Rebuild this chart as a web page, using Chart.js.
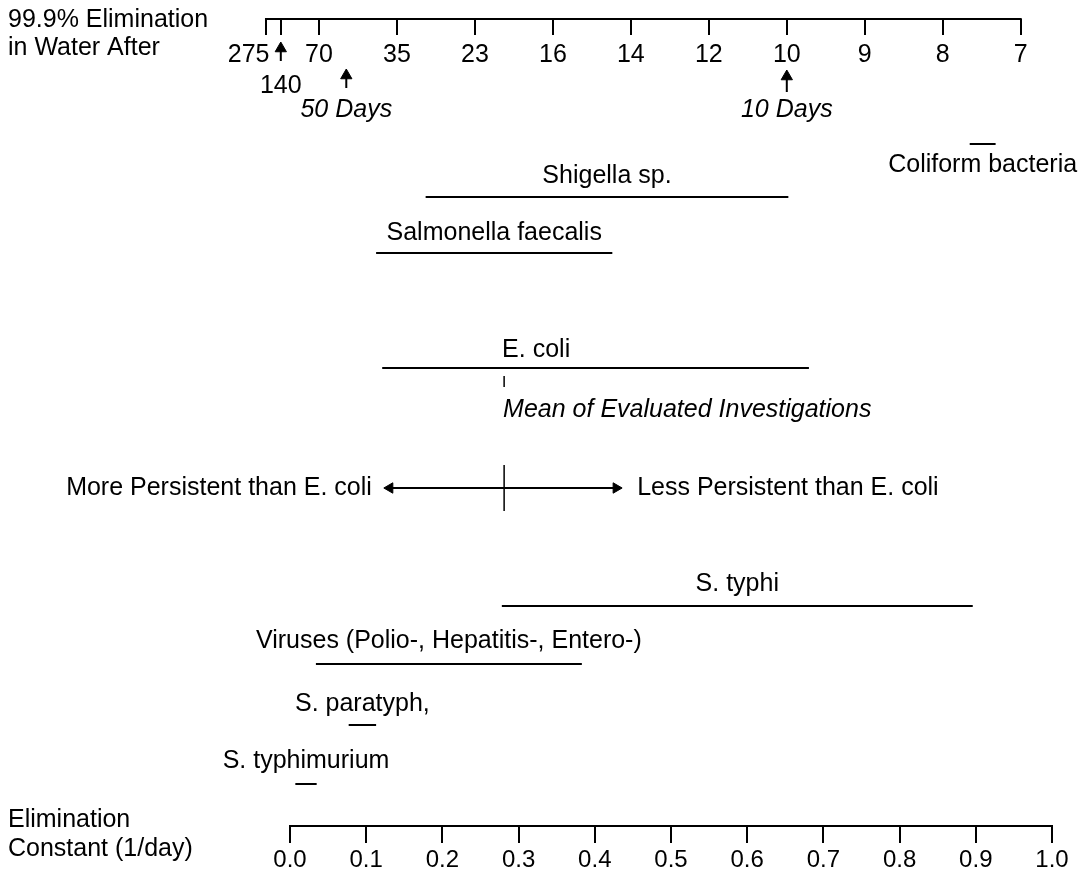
<!DOCTYPE html>
<html>
<head>
<meta charset="utf-8">
<script src="https://cdn.jsdelivr.net/npm/chart.js@4.4.1/dist/chart.umd.min.js"></script>
<style>
  body { margin: 0; background: #fff; }
</style>
</head>
<body>
<canvas id="elimChart" width="1083" height="873"></canvas>
<script>
// species and elimination constant ranges (1/day)
const species = ['Coliform bacteria', 'Shigella sp.', 'Salmonella faecalis', 'E. coli',
    'S. typhi', 'Viruses (Polio-, Hepatitis-, Entero-)', 'S. paratyph,', 'S. typhimurium'];
const kLow  = [0.892, 0.178, 0.113, 0.121, 0.278, 0.034, 0.077, 0.007];
const kHigh = [0.926, 0.654, 0.423, 0.681, 0.896, 0.383, 0.113, 0.035];
const ecoliMean = 0.281;
const persistRange = [0.131, 0.428];

// tick labels
const kTicks = [0, 0.1, 0.2, 0.3, 0.4, 0.5, 0.6, 0.7, 0.8, 0.9, 1.0];
const dayLabels = ['275', '140', '70', '35', '23', '16', '14', '12', '10', '9', '8', '7'];
const daySlots  = [0.32, 0.51, 1, 2, 3, 4, 5, 6, 7, 8, 9, 10];
const markerLabels = ['', '50 Days', '10 Days'];
const markerSlots  = [0.51, 1.35, 7];

// layout (vertical positions in canvas units, fonts)
const W = 1083, H = 873;
const AXIS_Y = { top: 19, bottom: 826 };
const rowY    = [144, 197, 253, 368, 606, 664, 725, 784];
const labelDy = [21, -21, -20, -18, -22, -23, -21, -23];
const markerArrow = [{ tip: 42, foot: 61 }, { tip: 69, foot: 88 }, { tip: 70, foot: 92 }];
const HEAD = 6.5;
const FONT = '"Liberation Sans", Arial, Helvetica, sans-serif';

Chart.defaults.font.family = FONT;
Chart.defaults.color = '#000';

// scale min/max so that two values land on two given pixels
function spanFor(v0, px0, v1, px1) {
    const per = (v1 - v0) / (px1 - px0);
    return { min: v0 - px0 * per, max: v0 + (W - px0) * per };
}
const kSpan = spanFor(0, 290, 1, 1052);
const daySpan = spanFor(1, 319, 10, 1020.7);

function seg(points, extra) {
    return Object.assign({
        data: points,
        showLine: true,
        borderColor: '#000',
        borderWidth: 2,
        pointRadius: 0,
        pointBackgroundColor: '#000',
        pointBorderColor: '#000',
        pointBorderWidth: 1,
        xAxisID: 'x',
        yAxisID: 'y'
    }, extra || {});
}

const datasets = [];
species.forEach((name, i) => {
    datasets.push(seg([{ x: kLow[i], y: rowY[i] }, { x: kHigh[i], y: rowY[i] }]));
});
// mean tick and the divider through the arrow
datasets.push(seg([{ x: ecoliMean, y: 376 }, { x: ecoliMean, y: 387 }], { borderWidth: 1.5 }));
datasets.push(seg([{ x: ecoliMean, y: 465 }, { x: ecoliMean, y: 511 }], { borderWidth: 1.5 }));
datasets.push(seg([{ x: persistRange[0], y: 488 }, { x: persistRange[1], y: 488 }], {
    pointStyle: 'triangle', pointRadius: 6, pointRotation: [-90, 90]
}));
// small up arrows under the day axis
markerSlots.forEach((s, i) => {
    datasets.push(seg([{ x: s, y: markerArrow[i].foot }, { x: s, y: markerArrow[i].tip + HEAD }], {
        xAxisID: 'x2', pointStyle: 'triangle', pointRadius: [0, HEAD]
    }));
});

// free text on the figure
const textPlugin = {
    id: 'figureText',
    afterDatasetsDraw(chart) {
        const { ctx } = chart;
        const x = chart.scales.x, x2 = chart.scales.x2, y = chart.scales.y;

        ctx.save();
        ctx.strokeStyle = '#000';
        ctx.lineWidth = 2;
        // axis lines only across the tick span
        ctx.beginPath();
        ctx.moveTo(x.getPixelForValue(kTicks[0]) - 1, y.getPixelForValue(AXIS_Y.bottom));
        ctx.lineTo(x.getPixelForValue(kTicks[kTicks.length - 1]) + 1, y.getPixelForValue(AXIS_Y.bottom));
        ctx.moveTo(x2.getPixelForValue(daySlots[0]) - 1, y.getPixelForValue(AXIS_Y.top));
        ctx.lineTo(x2.getPixelForValue(daySlots[daySlots.length - 1]) + 1, y.getPixelForValue(AXIS_Y.top));
        ctx.stroke();

        ctx.fillStyle = '#000';
        ctx.textBaseline = 'middle';
        const put = (text, px, py, align, italic) => {
            ctx.font = (italic ? 'italic ' : '') + '25px ' + FONT;
            ctx.textAlign = align;
            ctx.fillText(text, px, py);
        };

        put('99.9% Elimination', 8, 20, 'left');
        put('in Water After', 8, 48, 'left');
        put('Elimination', 8, 820, 'left');
        put('Constant (1/day)', 8, 849, 'left');

        species.forEach((name, i) => {
            const py = y.getPixelForValue(rowY[i] + labelDy[i]);
            if (name === 'E. coli') {
                put(name, x.getPixelForValue(ecoliMean) - 2, py, 'left');
            } else {
                put(name, x.getPixelForValue((kLow[i] + kHigh[i]) / 2), py, 'center');
            }
        });
        put('Mean of Evaluated Investigations', x.getPixelForValue(ecoliMean) - 1, y.getPixelForValue(410), 'left', true);
        put('More Persistent than E. coli', x.getPixelForValue(persistRange[0]) - 18, y.getPixelForValue(488), 'right');
        put('Less Persistent than E. coli', x.getPixelForValue(persistRange[1]) + 21, y.getPixelForValue(488), 'left');

        markerLabels.forEach((t, i) => {
            if (t) put(t, x2.getPixelForValue(markerSlots[i]), y.getPixelForValue(110), 'center', true);
        });
        ctx.restore();
    }
};

new Chart(document.getElementById('elimChart').getContext('2d'), {
    type: 'scatter',
    data: { datasets: datasets },
    options: {
        responsive: false,
        animation: false,
        events: [],
        layout: { padding: 0, autoPadding: false },
        plugins: {
            legend: { display: false },
            tooltip: { enabled: false },
            title: { display: false }
        },
        scales: {
            x: {
                type: 'linear',
                axis: 'x',
                position: { y: AXIS_Y.bottom },
                min: kSpan.min,
                max: kSpan.max,
                afterBuildTicks: (s) => { s.ticks = kTicks.map(v => ({ value: v })); },
                ticks: {
                    autoSkip: false, maxRotation: 0, minRotation: 0, padding: 3,
                    color: '#000', font: { size: 24 },
                    callback: (v) => Number(v).toFixed(1)
                },
                grid: { drawOnChartArea: false, tickLength: 17, lineWidth: 2, color: '#000' },
                border: { display: false }
            },
            x2: {
                type: 'linear',
                axis: 'x',
                position: { y: AXIS_Y.top },
                min: daySpan.min,
                max: daySpan.max,
                afterBuildTicks: (s) => { s.ticks = daySlots.map(v => ({ value: v })); },
                ticks: {
                    autoSkip: false, maxRotation: 0, minRotation: 0, padding: 4,
                    color: '#000', font: { size: 25, lineHeight: 1.25 },
                    callback: (v, i) => {
                        if (i === 0) return dayLabels[0] + '     ';
                        if (i === 1) return ['', dayLabels[1]];
                        return dayLabels[i];
                    }
                },
                grid: { drawOnChartArea: false, tickLength: 16, lineWidth: 2, color: '#000' },
                border: { display: false }
            },
            y: {
                type: 'linear',
                display: false,
                reverse: true,
                min: 0,
                max: H
            }
        }
    },
    plugins: [textPlugin]
});
</script>
</body>
</html>
